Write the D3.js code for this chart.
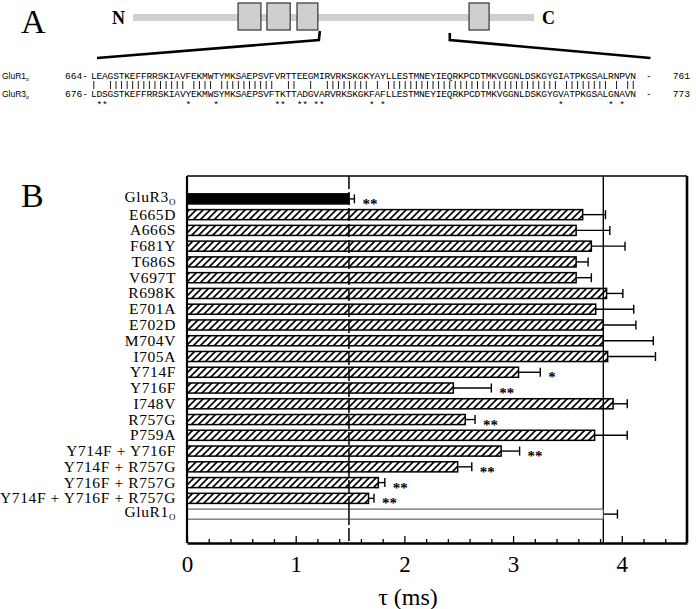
<!DOCTYPE html>
<html>
<head>
<meta charset="utf-8">
<script src="https://cdn.jsdelivr.net/npm/d3@7"></script>
<style>
  body { margin: 0; background: #fff; }
  svg { display: block; }
</style>
</head>
<body>
<svg id="chart" width="696" height="609"></svg>
<script>
// panel A data: aligned ligand binding segments
var glur1_name = 'GluR1o';
var glur3_name = 'GluR3o';
var glur1_range = [664, 761];
var glur3_range = [676, 773];
var glur1_seq = 'LEAGSTKEFFRRSKIAVFEKMWTYMKSAEPSVFVRTTEEGMIRVRKSKGKYAYLLESTMNEYIEQRKPCDTMKVGGNLDSKGYGIATPKGSALRNPVN';
var glur3_seq = 'LDSGSTKEFFRRSKIAVYEKMWSYMKSAEPSVFTKTTADGVARVRKSKGKFAFLLESTMNEYIEQRKPCDTMKVGGNLDSKGYGVATPKGSALGNAVN';

// panel A schematic: segments along the subunit (percent of length)
var segment_starts = [26.2, 33.4, 40.9, 83.8];
var segment_ends   = [31.9, 39.2, 46.1, 88.8];

// panel B data: deactivation time constants
var names = ['GluR3o', 'E665D', 'A666S', 'F681Y', 'T686S', 'V697T', 'R698K', 'E701A',
             'E702D', 'M704V', 'I705A', 'Y714F', 'Y716F', 'I748V', 'R757G', 'P759A',
             'Y714F + Y716F', 'Y714F + R757G', 'Y716F + R757G', 'Y714F + Y716F + R757G', 'GluR1o'];
var tau = [1.49, 3.64, 3.58, 3.72, 3.58, 3.58, 3.86, 3.76, 3.83, 3.83, 3.87,
           3.05, 2.45, 3.92, 2.56, 3.75, 2.89, 2.49, 1.76, 1.67, 3.83];
var sem = [0.05, 0.21, 0.31, 0.31, 0.11, 0.14, 0.15, 0.35, 0.30, 0.46, 0.44,
           0.20, 0.35, 0.13, 0.09, 0.30, 0.17, 0.13, 0.06, 0.05, 0.13];
var signif = ['**', '', '', '', '', '', '', '', '', '', '',
              '*', '**', '', '**', '', '**', '**', '**', '**', ''];
var tick_labels = ['0', '1', '2', '3', '4'];

var svg = d3.select('#chart');
var serif = "'Liberation Serif', 'Times New Roman', serif";
var mono = "'Liberation Mono', monospace";

// ---------------- panel A ----------------
var panel_a = svg.append('g');

// panel letter
panel_a.append('text')
    .attr('x', 21).attr('y', 33)
    .attr('font-family', serif).attr('font-size', 34)
    .text('A');

// schematic scale
var sx = d3.scaleLinear().domain([0, 100]).range([133, 534]);

// backbone
panel_a.append('rect')
    .attr('x', sx(0)).attr('y', 14)
    .attr('width', sx(100) - sx(0)).attr('height', 7)
    .attr('fill', '#cfcfcf');

// segments
panel_a.selectAll('rect.seg')
    .data(segment_starts)
    .enter().append('rect')
    .attr('class', 'seg')
    .attr('x', function(d) { return sx(d); })
    .attr('y', 3)
    .attr('width', function(d, i) { return sx(segment_ends[i]) - sx(d); })
    .attr('height', 27)
    .attr('fill', '#cfcfcf')
    .attr('stroke', '#333')
    .attr('stroke-width', 1.2);

// termini
panel_a.append('text')
    .attr('x', sx(0) - 8).attr('y', 24)
    .attr('text-anchor', 'end')
    .attr('font-family', serif).attr('font-weight', 'bold').attr('font-size', 18)
    .text('N');
panel_a.append('text')
    .attr('x', sx(100) + 8).attr('y', 24)
    .attr('font-family', serif).attr('font-weight', 'bold').attr('font-size', 18)
    .text('C');

// sequence position scale
var n_res = glur1_seq.length;
var qx = d3.scaleBand().domain(d3.range(n_res)).range([91, 636]);

// zoom lines
var line = d3.line();
panel_a.append('path')
    .attr('d', line([[sx(segment_ends[2]) + 2, 31], [sx(segment_ends[2]) + 1, 40], [qx(0) + 6, 58]]))
    .attr('fill', 'none').attr('stroke', '#000').attr('stroke-width', 2.6);
panel_a.append('path')
    .attr('d', line([[sx(79), 33], [sx(79), 40], [qx(n_res - 1) + 20, 58]]))
    .attr('fill', 'none').attr('stroke', '#000').attr('stroke-width', 2.6);

// draw one sequence row
function draw_row(name, range, seq, ypos) {
    var row = panel_a.append('g').attr('font-family', mono).attr('font-size', 9.6);
    var label = row.append('text').attr('x', 2).attr('y', ypos)
        .attr('font-family', "'Liberation Sans', Arial, sans-serif").attr('font-size', 8.5);
    label.append('tspan').text(name.slice(0, -1));
    label.append('tspan').attr('font-size', 5).attr('dy', 2).text(name.slice(-1));
    row.append('text').attr('x', 65).attr('y', ypos).text(range[0] + '-');
    row.append('text').attr('x', 646).attr('y', ypos).text('-');
    row.append('text').attr('x', 690).attr('y', ypos).attr('text-anchor', 'end').text(range[1]);
    row.selectAll('text.res')
        .data(seq.split(''))
        .enter().append('text')
        .attr('class', 'res')
        .attr('x', function(d, i) { return qx(i) + qx.bandwidth() / 2; })
        .attr('y', ypos)
        .attr('text-anchor', 'middle')
        .text(function(d) { return d; });
}
draw_row(glur1_name, glur1_range, glur1_seq, 79);
draw_row(glur3_name, glur3_range, glur3_seq, 97);

// identity bars and difference stars
var residues = d3.range(n_res);
panel_a.selectAll('line.ident')
    .data(residues.filter(function(i) { return glur1_seq[i] == glur3_seq[i]; }))
    .enter().append('line')
    .attr('class', 'ident')
    .attr('x1', function(i) { return qx(i) + qx.bandwidth() / 2; })
    .attr('x2', function(i) { return qx(i) + qx.bandwidth() / 2; })
    .attr('y1', 81).attr('y2', 89)
    .attr('stroke', '#000').attr('stroke-width', 0.9);
panel_a.selectAll('text.diff')
    .data(residues.filter(function(i) { return glur1_seq[i] != glur3_seq[i]; }))
    .enter().append('text')
    .attr('class', 'diff')
    .attr('x', function(i) { return qx(i) + qx.bandwidth() / 2; })
    .attr('y', 108)
    .attr('text-anchor', 'middle')
    .attr('font-family', mono)
    .attr('font-size', 9.6)
    .text('*');

// ---------------- panel B ----------------
var panel_b = svg.append('g');
var plot_left = 187, plot_right = 687, plot_top = 176, plot_bottom = 543;

// panel letter
panel_b.append('text')
    .attr('x', 21).attr('y', 207)
    .attr('font-family', serif).attr('font-size', 34)
    .text('B');

// scales
var x = d3.scaleLinear().domain([0, 4.6]).range([plot_left, plot_right]);
var y = d3.scaleBand().domain(names).range([191, 522]).paddingInner(0.36).paddingOuter(0.18);

// data rows
var rows = names.map(function(name, i) {
    return { name: name, tau: tau[i], sem: sem[i], signif: signif[i] };
});

// hatch pattern
svg.append('defs').append('pattern')
    .attr('id', 'hatch')
    .attr('patternUnits', 'userSpaceOnUse')
    .attr('width', 7).attr('height', 7)
    .append('path')
    .attr('d', 'M-1,8 L8,-1 M-4,4 L4,-4 M3,11 L11,3')
    .attr('stroke', '#000').attr('stroke-width', 1.7);

// reference lines (GluR3o dashed, GluR1o solid)
var ref3 = rows[0], ref1 = rows[rows.length - 1];
panel_b.append('line')
    .attr('x1', x(ref3.tau)).attr('x2', x(ref3.tau))
    .attr('y1', plot_top).attr('y2', plot_bottom)
    .attr('stroke', '#000').attr('stroke-width', 1.5)
    .attr('stroke-dasharray', '13,3');
panel_b.append('line')
    .attr('x1', x(ref1.tau)).attr('x2', x(ref1.tau))
    .attr('y1', plot_top).attr('y2', plot_bottom)
    .attr('stroke', '#000').attr('stroke-width', 1.4);

// error bars
var err = panel_b.selectAll('g.err')
    .data(rows)
    .enter().append('g')
    .attr('class', 'err')
    .attr('stroke', '#000').attr('stroke-width', 1.4);
err.append('line')
    .attr('x1', function(d) { return x(d.tau); })
    .attr('x2', function(d) { return x(d.tau + d.sem); })
    .attr('y1', function(d) { return y(d.name) + y.bandwidth() / 2; })
    .attr('y2', function(d) { return y(d.name) + y.bandwidth() / 2; });
err.append('line')
    .attr('x1', function(d) { return x(d.tau + d.sem); })
    .attr('x2', function(d) { return x(d.tau + d.sem); })
    .attr('y1', function(d) { return y(d.name) + y.bandwidth() / 2 - 4.5; })
    .attr('y2', function(d) { return y(d.name) + y.bandwidth() / 2 + 4.5; });

// bars
panel_b.selectAll('rect.bar')
    .data(rows)
    .enter().append('rect')
    .attr('class', 'bar')
    .attr('x', x(0))
    .attr('y', function(d) { return y(d.name); })
    .attr('width', function(d) { return x(d.tau) - x(0); })
    .attr('height', y.bandwidth())
    .attr('fill', function(d) {
        if (d.name == 'GluR3o') return '#000';
        if (d.name == 'GluR1o') return '#fff';
        return 'url(#hatch)';
    })
    .attr('stroke', function(d) { return d.name == 'GluR1o' ? '#444' : '#000'; })
    .attr('stroke-width', function(d) { return d.name == 'GluR1o' ? 1 : 1.5; });

// redraw dashed line through the open GluR1o bar
panel_b.append('line')
    .attr('x1', x(ref3.tau)).attr('x2', x(ref3.tau))
    .attr('y1', y(ref1.name)).attr('y2', y(ref1.name) + y.bandwidth())
    .attr('stroke', '#000').attr('stroke-width', 1.5);

// significance marks
panel_b.selectAll('text.sig')
    .data(rows.filter(function(d) { return d.signif != ''; }))
    .enter().append('text')
    .attr('class', 'sig')
    .attr('x', function(d) { return x(d.tau + d.sem) + 8; })
    .attr('y', function(d) { return y(d.name) + y.bandwidth() / 2 + 10; })
    .attr('font-family', serif).attr('font-weight', 'bold').attr('font-size', 15)
    .attr('fill', '#000')
    .text(function(d) { return d.signif; });

// category labels
var labels = panel_b.selectAll('text.lab')
    .data(rows)
    .enter().append('text')
    .attr('class', 'lab')
    .attr('x', 176)
    .attr('y', function(d) {
        // subscripted names sit a little higher
        var shift = d.name.indexOf('GluR') == 0 ? 3 : 5;
        return y(d.name) + y.bandwidth() / 2 + shift;
    })
    .attr('text-anchor', 'end')
    .attr('font-family', serif).attr('font-size', 15.5)
    .attr('letter-spacing', 0.6);
labels.each(function(d) {
    var t = d3.select(this);
    if (d.name.indexOf('GluR') == 0) {
        t.append('tspan').text(d.name.slice(0, -1));
        t.append('tspan').attr('font-size', 9).attr('dy', 3).text('O');
    } else {
        t.text(d.name);
    }
});

// frame
panel_b.append('line').attr('x1', plot_left).attr('x2', plot_right).attr('y1', plot_top).attr('y2', plot_top)
    .attr('stroke', '#000').attr('stroke-width', 1.6);
panel_b.append('line').attr('x1', plot_right).attr('x2', plot_right).attr('y1', plot_top).attr('y2', plot_bottom)
    .attr('stroke', '#000').attr('stroke-width', 2.6);
panel_b.append('line').attr('x1', plot_left).attr('x2', plot_left).attr('y1', plot_top).attr('y2', plot_bottom)
    .attr('stroke', '#000').attr('stroke-width', 2.2);

// x axis with inward ticks
var axis = panel_b.append('g')
    .attr('transform', 'translate(0,' + plot_bottom + ')')
    .call(d3.axisBottom(x)
        .tickValues(d3.range(0, 23).map(function(i) { return i * 0.2; }))
        .tickSizeInner(-4).tickSizeOuter(0).tickPadding(13)
        .tickFormat(function(d) {
            var k = Math.round(d * 5);
            return k % 5 == 0 ? tick_labels[k / 5] : '';
        }));
axis.select('.domain').attr('stroke-width', 2.6);
axis.selectAll('.tick line').attr('stroke-width', 1.3)
    .attr('y2', function(d) { return Math.round(d * 5) % 5 == 0 ? -7 : -4; });
axis.selectAll('.tick text')
    .attr('font-family', serif).attr('font-size', 23).attr('fill', '#000');

// axis title
panel_b.append('text')
    .attr('x', 408).attr('y', 605)
    .attr('text-anchor', 'middle')
    .attr('font-family', serif).attr('font-size', 24)
    .text('\u03c4 (ms)');
</script>
</body>
</html>
